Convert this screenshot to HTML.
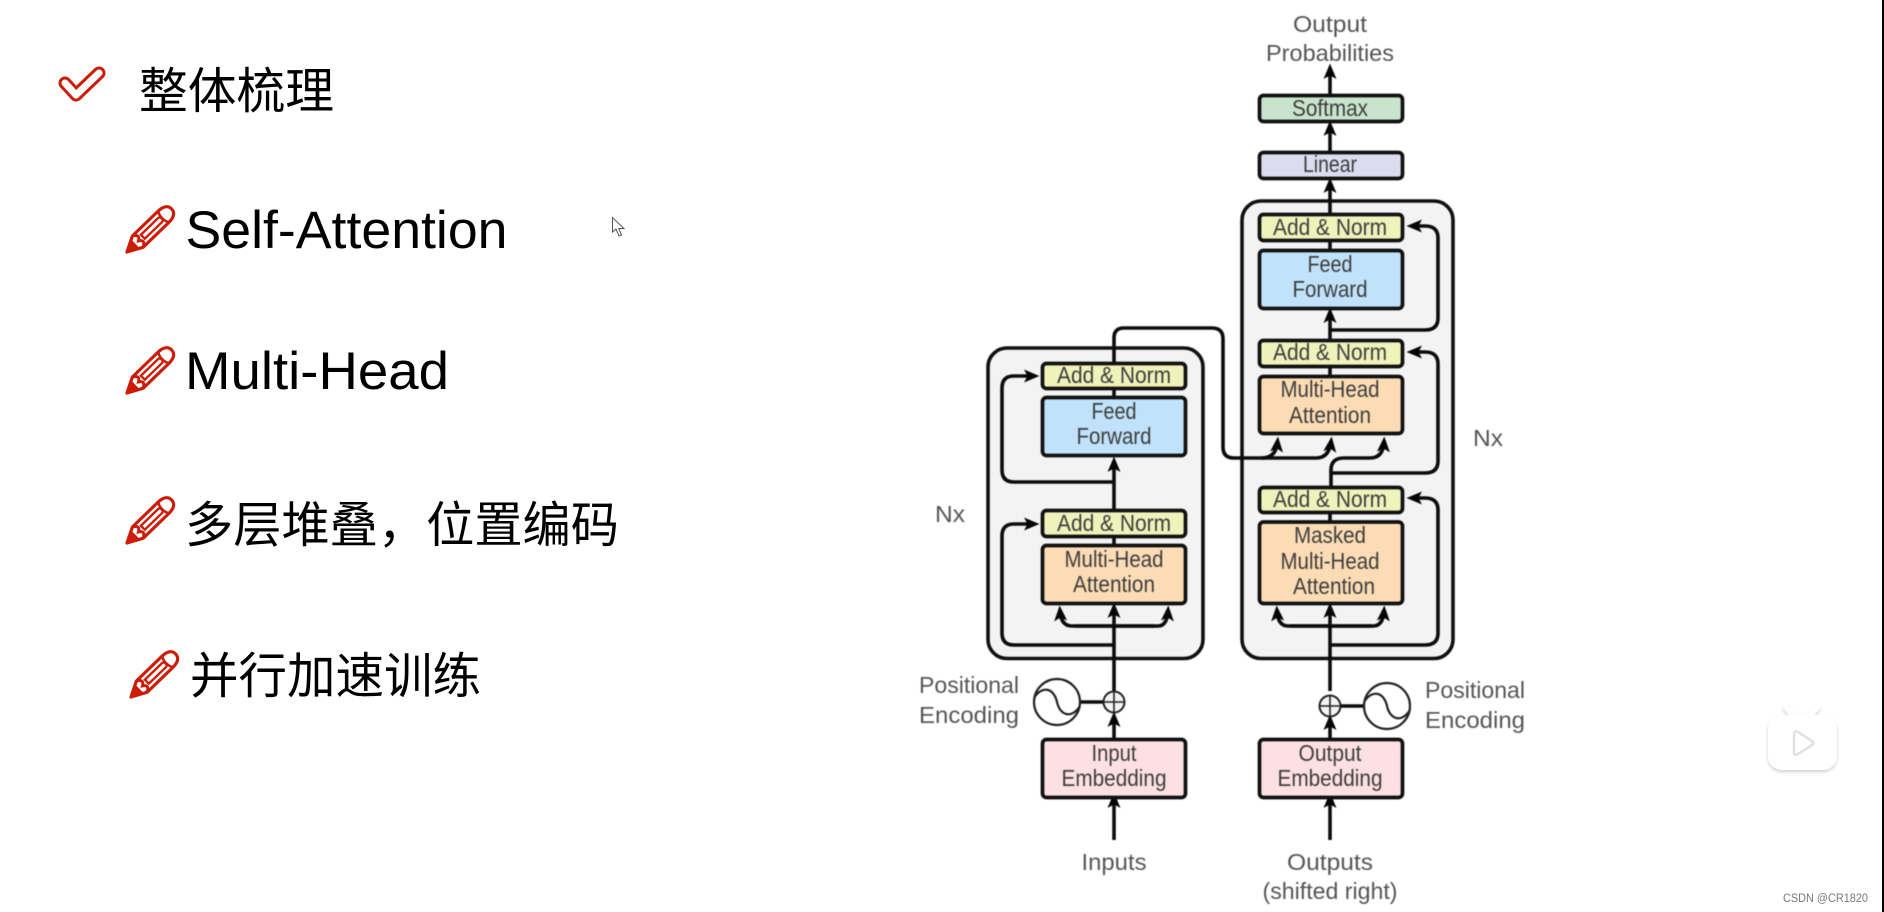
<!DOCTYPE html>
<html lang="zh">
<head>
<meta charset="utf-8">
<title>Transformer</title>
<style>
html,body{margin:0;padding:0;background:#fff;width:1884px;height:912px;overflow:hidden}
svg{display:block;position:absolute;left:0;top:0}
.cjk{font-family:"Liberation Sans","Noto Sans CJK SC",sans-serif;fill:#000;font-size:49px}
.lat{font-family:"Liberation Sans","Noto Sans CJK SC",sans-serif;fill:#000;font-size:53px}
.d text{font-family:"Liberation Sans",sans-serif;font-size:23px;fill:#3d3d3d;text-anchor:middle}
.box{stroke:#111;stroke-width:3.7}
.ln{fill:none;stroke:#0c0c0c;stroke-width:3.6;stroke-linejoin:round}
.ar{marker-end:url(#a)}
</style>
</head>
<body>
<svg width="1884" height="912" viewBox="0 0 1884 912" xmlns="http://www.w3.org/2000/svg">
<defs>
<marker id="a" markerUnits="userSpaceOnUse" markerWidth="18" markerHeight="16" viewBox="0 0 18 16" refX="10" refY="8" orient="auto">
<path d="M15.5 8 L0 1.5 L3.5 8 L0 14.5 Z" fill="#050505"/>
</marker>
<g id="pen">
<path d="M0 0 L15 -7.8 L50 -7.8 C58 -8 62 -5 62 0 C62 5 58 8 50 7.8 L15 7.8 Z" fill="#fff" stroke="#cc1d08" stroke-width="3.2" stroke-linejoin="round"/>
<path d="M0 0 L11 -5.5 L11 5.5 Z" fill="#cc1d08" stroke="#cc1d08" stroke-width="1.5"/>
<path d="M15 -7.8 C20 -5 20 -2.5 16 0 C20 2.5 20 5 15 7.8" fill="none" stroke="#cc1d08" stroke-width="3"/>
<path d="M22 -2.8 L46 -2.8 C49 -2.8 49 2.8 46 2.8 L22 2.8 Z" fill="none" stroke="#cc1d08" stroke-width="2.4"/>
<path d="M51 -7.8 C48 -4 48 4 51 7.8" fill="none" stroke="#cc1d08" stroke-width="2.6"/>
</g>
<filter id="s" x="-30%" y="-30%" width="160%" height="160%"><feDropShadow dx="0" dy="2" stdDeviation="1.6" flood-color="#000" flood-opacity=".18"/></filter>
</defs>

<rect width="1884" height="912" fill="#fff"/>
<rect x="1882" y="0" width="2" height="912" fill="#000"/>

<!-- Left list -->
<path d="M65 83 L76 95 L99 73" fill="none" stroke="#cc1d08" stroke-width="13" stroke-linecap="round" stroke-linejoin="round"/>
<path d="M65 83 L76 95 L99 73" fill="none" stroke="#fff" stroke-width="7" stroke-linecap="round" stroke-linejoin="round"/>
<text class="cjk" x="139" y="108" textLength="195" lengthAdjust="spacingAndGlyphs">整体梳理</text>

<use href="#pen" transform="translate(127 252) rotate(-44)"/>
<text class="lat" x="185.5" y="248" textLength="322" lengthAdjust="spacingAndGlyphs">Self-Attention</text>

<use href="#pen" transform="translate(127 393) rotate(-44)"/>
<text class="lat" x="185" y="389" textLength="264" lengthAdjust="spacingAndGlyphs">Multi-Head</text>

<use href="#pen" transform="translate(127 543) rotate(-44)"/>
<text class="cjk" x="185" y="542" textLength="434" lengthAdjust="spacingAndGlyphs">多层堆叠，位置编码</text>

<use href="#pen" transform="translate(131 697) rotate(-44)"/>
<text class="cjk" x="190" y="693" textLength="291" lengthAdjust="spacingAndGlyphs">并行加速训练</text>

<!-- cursor -->
<path d="M612.5 217.5 L612.5 232 L616 229 L619 236 L621.5 235 L618.8 228.5 L624 228.5 Z" fill="#fff" stroke="#555" stroke-width="1"/>

<!-- Diagram -->
<g class="d" style="filter:blur(.45px)">
<rect x="988" y="348" width="215" height="310.5" rx="19" fill="#f3f3f3" stroke="#111" stroke-width="3.6"/>
<rect x="1242" y="201" width="211" height="457.5" rx="19" fill="#f3f3f3" stroke="#111" stroke-width="3.6"/>

<!-- encoder connectors -->
<path class="ln" d="M1114 362 V338 Q1114 328 1124 328 H1212 Q1223 328 1223 339 V447 Q1223 458 1234 458 H1264"/>
<path class="ln ar" d="M1262 458 Q1276 458 1277.5 442"/>
<path class="ln ar" d="M1262 458 H1316 Q1329 458 1331 442"/>
<path class="ln ar" d="M1114 509 V462"/>
<path class="ln" d="M1114 397 V389"/>
<path class="ln" d="M1114 545 V537"/>
<path class="ln ar" d="M1114 482 H1014 Q1002 482 1002 470 V388 Q1002 376 1014 376 H1034"/>
<path class="ln ar" d="M1114 645 H1014 Q1002 645 1002 633 V536 Q1002 524 1014 524 H1034"/>
<path class="ln ar" d="M1114 691 V608"/>
<path class="ln ar" d="M1075 626 H1158 Q1167 626 1168 611"/>
<path class="ln ar" d="M1155 626 H1072 Q1061 626 1060 611"/>
<path class="ln ar" d="M1114 739 V717"/>
<path class="ln ar" d="M1114 840 V798"/>

<!-- decoder connectors -->
<path class="ln ar" d="M1330 94 V69"/>
<path class="ln ar" d="M1330 151 V126"/>
<path class="ln ar" d="M1330 213 V183"/>
<path class="ln" d="M1330 250 V241"/>
<path class="ln ar" d="M1330 339 V313"/>
<path class="ln ar" d="M1330 330 H1425 Q1438 330 1438 318 V238 Q1438 226 1425 226 H1412"/>
<path class="ln" d="M1330 376 V367"/>
<path class="ln ar" d="M1330 473 H1425 Q1438 473 1438 461 V364 Q1438 352 1425 352 H1412"/>
<path class="ln ar" d="M1331 486 V470 Q1331 458 1344 458 H1370 Q1383 458 1384 442"/>
<path class="ln" d="M1330 522 V513"/>
<path class="ln ar" d="M1330 645 H1425 Q1438 645 1438 633 V510 Q1438 498 1425 498 H1412"/>
<path class="ln ar" d="M1330 691 V608"/>
<path class="ln ar" d="M1290 626 H1373 Q1383 626 1384 611"/>
<path class="ln ar" d="M1372 626 H1288 Q1278 626 1277 611"/>
<path class="ln ar" d="M1330 739 V720"/>
<path class="ln ar" d="M1330 840 V798"/>

<!-- boxes right -->
<rect class="box" x="1259.5" y="95.5" width="143" height="26" rx="4" fill="#c9e4cc"/>
<rect class="box" x="1259.5" y="152.5" width="143" height="26" rx="4" fill="#dcdcf0"/>
<rect class="box" x="1259.5" y="214.5" width="143" height="26" rx="4" fill="#eff2bb"/>
<rect class="box" x="1259.5" y="250.5" width="143" height="58" rx="4" fill="#c0e2fa"/>
<rect class="box" x="1259.5" y="340.5" width="143" height="26" rx="4" fill="#eff2bb"/>
<rect class="box" x="1259.5" y="376.5" width="143" height="57" rx="4" fill="#fcdcb5"/>
<rect class="box" x="1259.5" y="487.5" width="143" height="25" rx="4" fill="#eff2bb"/>
<rect class="box" x="1259.5" y="522" width="143" height="81.5" rx="4" fill="#fcdcb5"/>
<rect class="box" x="1259.5" y="739.5" width="143" height="58" rx="4" fill="#fde0e2"/>

<!-- boxes left -->
<rect class="box" x="1042.5" y="363.5" width="143" height="25" rx="4" fill="#eff2bb"/>
<rect class="box" x="1042.5" y="397.5" width="143" height="58" rx="4" fill="#c0e2fa"/>
<rect class="box" x="1042.5" y="510.5" width="143" height="26" rx="4" fill="#eff2bb"/>
<rect class="box" x="1042.5" y="545.5" width="143" height="58" rx="4" fill="#fcdcb5"/>
<rect class="box" x="1042.5" y="739.5" width="143" height="58" rx="4" fill="#fde0e2"/>

<!-- positional encoding left -->
<path class="ln" d="M1080 702 H1103"/>
<circle cx="1114" cy="702" r="10.5" fill="#f4f4f4" stroke="#222" stroke-width="2"/>
<path d="M1103.5 702 H1124.5 M1114 691.5 V712.5" stroke="#222" stroke-width="1.6"/>
<circle cx="1057" cy="702" r="23" fill="#fff" stroke="#222" stroke-width="2.2"/>
<path d="M1034 698 C1042 685 1054 688 1057 702 C1060 716 1072 719 1080 706" fill="none" stroke="#222" stroke-width="2.2"/>

<!-- positional encoding right -->
<path class="ln" d="M1341 706 H1364"/>
<circle cx="1330" cy="706" r="10.5" fill="#f4f4f4" stroke="#222" stroke-width="2"/>
<path d="M1319.5 706 H1340.5 M1330 695.5 V716.5" stroke="#222" stroke-width="1.6"/>
<circle cx="1387" cy="706" r="23" fill="#fff" stroke="#222" stroke-width="2.2"/>
<path d="M1364 702 C1372 689 1384 692 1387 706 C1390 720 1402 723 1410 710" fill="none" stroke="#222" stroke-width="2.2"/>

<!-- labels -->
<text x="1330" y="32" textLength="74" lengthAdjust="spacingAndGlyphs" style="fill:#555">Output</text>
<text x="1330" y="61" textLength="128" lengthAdjust="spacingAndGlyphs" style="fill:#555">Probabilities</text>
<text x="1330" y="116" textLength="76" lengthAdjust="spacingAndGlyphs">Softmax</text>
<text x="1330" y="172" textLength="54" lengthAdjust="spacingAndGlyphs">Linear</text>
<text x="1330" y="235" textLength="114" lengthAdjust="spacingAndGlyphs">Add &amp; Norm</text>
<text x="1330" y="272" textLength="45" lengthAdjust="spacingAndGlyphs">Feed</text>
<text x="1330" y="297" textLength="75" lengthAdjust="spacingAndGlyphs">Forward</text>
<text x="1330" y="360" textLength="114" lengthAdjust="spacingAndGlyphs">Add &amp; Norm</text>
<text x="1330" y="397" textLength="99" lengthAdjust="spacingAndGlyphs">Multi-Head</text>
<text x="1330" y="423" textLength="82" lengthAdjust="spacingAndGlyphs">Attention</text>
<text x="1330" y="507" textLength="114" lengthAdjust="spacingAndGlyphs">Add &amp; Norm</text>
<text x="1330" y="543" textLength="72" lengthAdjust="spacingAndGlyphs">Masked</text>
<text x="1330" y="569" textLength="99" lengthAdjust="spacingAndGlyphs">Multi-Head</text>
<text x="1334" y="594" textLength="82" lengthAdjust="spacingAndGlyphs">Attention</text>
<text x="1330" y="761" textLength="63" lengthAdjust="spacingAndGlyphs">Output</text>
<text x="1330" y="786" textLength="105" lengthAdjust="spacingAndGlyphs">Embedding</text>

<text x="1114" y="383" textLength="114" lengthAdjust="spacingAndGlyphs">Add &amp; Norm</text>
<text x="1114" y="419" textLength="45" lengthAdjust="spacingAndGlyphs">Feed</text>
<text x="1114" y="444" textLength="75" lengthAdjust="spacingAndGlyphs">Forward</text>
<text x="1114" y="531" textLength="114" lengthAdjust="spacingAndGlyphs">Add &amp; Norm</text>
<text x="1114" y="567" textLength="99" lengthAdjust="spacingAndGlyphs">Multi-Head</text>
<text x="1114" y="592" textLength="82" lengthAdjust="spacingAndGlyphs">Attention</text>
<text x="1114" y="761" textLength="45" lengthAdjust="spacingAndGlyphs">Input</text>
<text x="1114" y="786" textLength="105" lengthAdjust="spacingAndGlyphs">Embedding</text>

<text x="1114" y="870" textLength="65" lengthAdjust="spacingAndGlyphs" style="fill:#555">Inputs</text>
<text x="1330" y="870" textLength="86" lengthAdjust="spacingAndGlyphs" style="fill:#555">Outputs</text>
<text x="1330" y="899" textLength="135" lengthAdjust="spacingAndGlyphs" style="fill:#555">(shifted right)</text>
<text x="1488" y="446" textLength="30" lengthAdjust="spacingAndGlyphs" style="fill:#555">Nx</text>
<text x="950" y="522" textLength="30" lengthAdjust="spacingAndGlyphs" style="fill:#555">Nx</text>
<text x="969" y="693" textLength="100" lengthAdjust="spacingAndGlyphs" style="fill:#555">Positional</text>
<text x="969" y="723" textLength="100" lengthAdjust="spacingAndGlyphs" style="fill:#555">Encoding</text>
<text x="1475" y="698" textLength="100" lengthAdjust="spacingAndGlyphs" style="fill:#555">Positional</text>
<text x="1475" y="728" textLength="100" lengthAdjust="spacingAndGlyphs" style="fill:#555">Encoding</text>
</g>

<!-- video watermark icon -->
<g filter="url(#s)">
<path d="M1786 707 L1794 717 M1817 707 L1809 717" stroke="#fff" stroke-width="6" stroke-linecap="round"/>
<rect x="1768" y="715" width="69" height="55" rx="14" fill="#fff"/>
</g>
<path d="M1794 734 Q1794 730 1798 732 L1812 741 Q1815 743 1812 745 L1798 754 Q1794 756 1794 752 Z" fill="#fff" stroke="#e0e0e0" stroke-width="2.4"/>

<text x="1783" y="902" font-family="Liberation Sans, sans-serif" font-size="11.5" fill="#7a7a7a" textLength="85" lengthAdjust="spacingAndGlyphs">CSDN @CR1820</text>
</svg>
</body>
</html>
